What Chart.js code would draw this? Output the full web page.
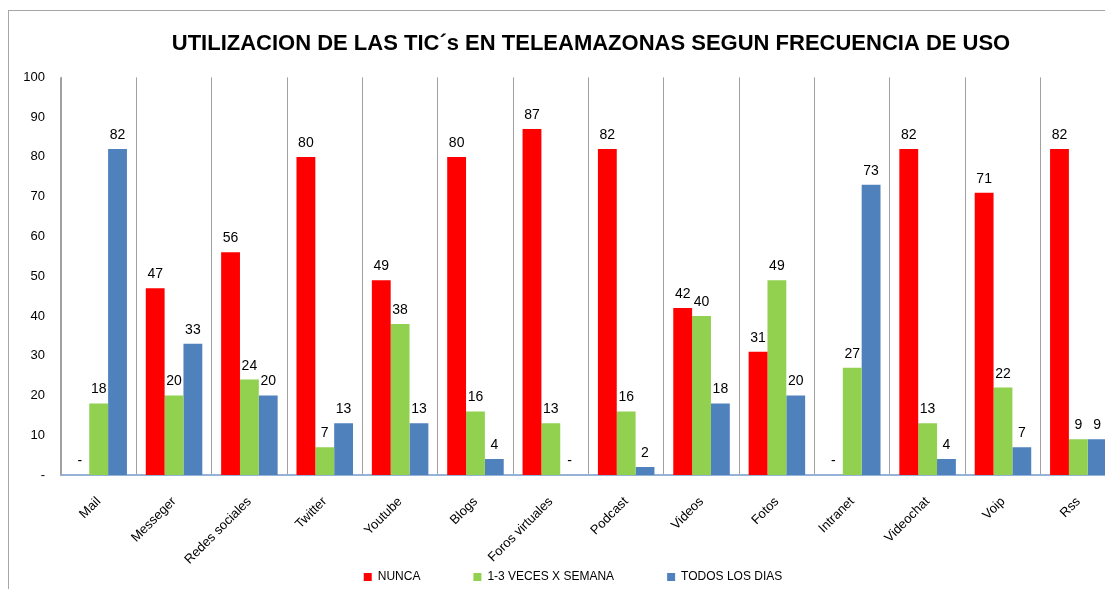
<!DOCTYPE html>
<html>
<head>
<meta charset="utf-8">
<script src="https://cdn.jsdelivr.net/npm/chart.js@4"></script>
<style>
  html, body { margin: 0; padding: 0; background: #fff; overflow: hidden; }
  #frame {
    position: absolute; left: 8px; top: 10px;
    width: 1164px; height: 582px;
    border-top: 1px solid #a6a6a6; border-left: 1px solid #a6a6a6;
  }
</style>
</head>
<body>
<div id="frame"><canvas id="ticChart" width="1164" height="582"></canvas></div>
<script>
const FONT = "'Liberation Sans', Arial, sans-serif";

const categories = ['Mail', 'Messeger', 'Redes sociales', 'Twitter', 'Youtube', 'Blogs',
  'Foros virtuales', 'Podcast', 'Videos', 'Fotos', 'Intranet', 'Videochat', 'Voip', 'Rss'];
const nunca = [0, 47, 56, 80, 49, 80, 87, 82, 42, 31, 0, 82, 71, 82];
const semana = [18, 20, 24, 7, 38, 16, 13, 16, 40, 49, 27, 13, 22, 9];
const todosDias = [82, 33, 20, 13, 13, 4, 0, 2, 18, 20, 73, 4, 7, 9];
const yTicks = [0, 10, 20, 30, 40, 50, 60, 70, 80, 90, 100];

// draws the number above each bar, "-" for zero
const valueLabels = {
  id: 'valueLabels',
  afterDatasetsDraw(chart) {
    const ctx = chart.ctx;
    ctx.save();
    ctx.font = '14px ' + FONT;
    ctx.fillStyle = '#000';
    ctx.textAlign = 'center';
    ctx.textBaseline = 'alphabetic';
    chart.data.datasets.forEach((ds, i) => {
      chart.getDatasetMeta(i).data.forEach((bar, j) => {
        const v = ds.data[j];
        ctx.fillText(v === 0 ? '-' : String(v), bar.x, bar.y - 10);
      });
    });
    ctx.restore();
  }
};

// legend sits a bit left of the title centre in the original,
// and the rotated category names need room below the short x axis box
const layoutTweaks = {
  id: 'layoutTweaks',
  afterLayout(chart) {
    chart.legend.left -= 18;
    chart.legend.right -= 18;
    chart.scales.x.bottom = chart.height;
  }
};

const ctx = document.getElementById('ticChart').getContext('2d');
new Chart(ctx, {
  type: 'bar',
  data: {
    labels: categories,
    datasets: [
      { label: 'NUNCA', data: nunca, backgroundColor: '#ff0000' },
      { label: '1-3 VECES X SEMANA', data: semana, backgroundColor: '#92d050' },
      { label: 'TODOS LOS DIAS', data: todosDias, backgroundColor: '#4f81bd' }
    ]
  },
  options: {
    responsive: false,
    animation: false,
    layout: { padding: 0 },
    datasets: { bar: { barPercentage: 1, categoryPercentage: 0.75 } },
    plugins: {
      title: {
        display: true,
        text: 'UTILIZACION DE LAS TIC´s EN TELEAMAZONAS SEGUN FRECUENCIA DE USO',
        color: '#000',
        font: { family: FONT, size: 22, weight: 'bold' },
        padding: { top: 20, bottom: 20 }
      },
      legend: {
        position: 'bottom',
        labels: {
          color: '#000',
          font: { family: FONT, size: 12 },
          boxWidth: 8,
          boxHeight: 8,
          padding: 53
        }
      },
      tooltip: { enabled: false }
    },
    scales: {
      x: {
        offset: true,
        grid: { display: true, offset: true, color: '#a0a0a0', drawTicks: false },
        border: { display: true, color: '#95b3d7', width: 2 },
        ticks: {
          color: '#000',
          font: { family: FONT, size: 13 },
          autoSkip: false,
          minRotation: 45,
          maxRotation: 45,
          padding: 19
        },
        afterFit(scale) { scale.height = 43; }
      },
      y: {
        min: 0,
        max: 100,
        afterBuildTicks(scale) { scale.ticks = yTicks.map(v => ({ value: v })); },
        grid: { display: false, drawTicks: false },
        border: { display: true, color: '#a0a0a0' },
        ticks: {
          color: '#000',
          font: { family: FONT, size: 13 },
          padding: 16,
          callback: v => (v === 0 ? '-' : v)
        },
        afterFit(scale) { scale.width = 52; }
      },
      // empty space on the right so the plot runs past the window edge
      spacer: {
        position: 'right',
        grid: { display: false, drawTicks: false },
        border: { display: false },
        ticks: { display: false },
        afterFit(scale) { scale.width = 57; }
      }
    }
  },
  plugins: [valueLabels, layoutTweaks]
});
</script>
</body>
</html>
